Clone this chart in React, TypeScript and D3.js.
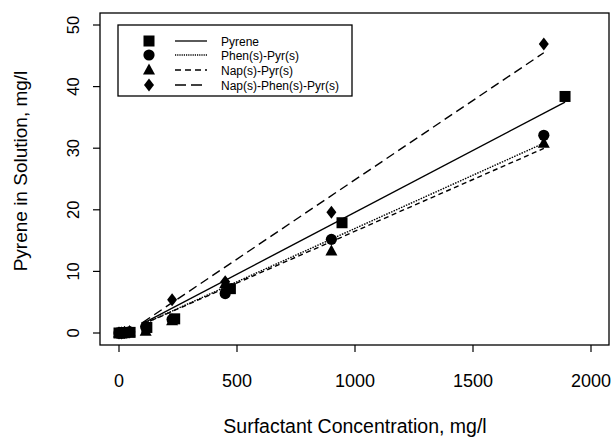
import React from "react";
import * as d3 from "d3";

const seriesNames = ["Pyrene", "Phen(s)-Pyr(s)", "Nap(s)-Pyr(s)", "Nap(s)-Phen(s)-Pyr(s)"];
const symbols = ["square", "circle", "triangle", "diamond"];
const dashes = ["none", "1.5,1.2", "5,3.5", "9,5"];
const legendDashes = ["none", "1.2,1", "6,4", "11,5"];

const pyreneX = [0, 12, 24, 47, 118, 236, 472, 945, 1890];
const pyreneY = [0, 0, 0.05, 0.1, 0.9, 2.3, 7.2, 17.9, 38.4];
const phenPyrX = [0, 11, 23, 45, 113, 225, 450, 900, 1800];
const phenPyrY = [0, 0, 0.1, 0.2, 1.0, 2.2, 6.4, 15.2, 32.1];
const napPyrX = [0, 11, 23, 45, 113, 225, 450, 900, 1800];
const napPyrY = [0, 0, 0.1, 0.2, 0.3, 2.0, 8.0, 13.3, 30.8];
const napPhenPyrX = [0, 11, 23, 45, 113, 225, 450, 900, 1800];
const napPhenPyrY = [0, 0, 0.1, 0.2, 1.0, 5.4, 8.3, 19.6, 46.9];

const fitSlope = [0.0201, 0.0173, 0.0168, 0.02576];
const fitIntercept = [-0.5, -0.33, -0.28, -0.88];
const fitStart = [100, 100, 100, 100];

const xTicks = [0, 500, 1000, 1500, 2000];
const yTicks = [0, 10, 20, 30, 40, 50];

const W = 614, H = 439;
const box = { left: 100, right: 609, top: 13, bottom: 345 };
const font = "'Liberation Sans', Arial, Helvetica, sans-serif";

function Marker({ type, x, y }: { type: string; x: number; y: number }) {
  if (type === "square") return <rect x={x - 5.5} y={y - 5.5} width={11} height={11} fill="#000" />;
  if (type === "circle") return <circle cx={x} cy={y} r={5.6} fill="#000" />;
  if (type === "triangle")
    return <path d={`M${x},${y - 6.5}L${x + 6},${y + 4.5}L${x - 6},${y + 4.5}Z`} fill="#000" />;
  return <path d={`M${x},${y - 6.5}L${x + 5},${y}L${x},${y + 6.5}L${x - 5},${y}Z`} fill="#000" />;
}

export default function App() {
  const x = d3.scaleLinear().domain([0, 2000]).range([119, 591]);
  const y = d3.scaleLinear().domain([0, 50]).range([333, 25]);
  const xs = [pyreneX, phenPyrX, napPyrX, napPhenPyrX];
  const ys = [pyreneY, phenPyrY, napPyrY, napPhenPyrY];
  const line = d3.line<[number, number]>().x((d) => x(d[0])).y((d) => y(d[1]));

  const legendRowY = [41, 55, 70, 85];

  return (
    <svg width={W} height={H} style={{ position: "absolute", left: 0, top: 0, background: "#fff" }}>
      <rect x={0} y={0} width={W} height={H} fill="#fff" />
      {seriesNames.map((n, i) => {
        const x1 = fitStart[i];
        const x2 = d3.max(xs[i]) as number;
        const pts: [number, number][] = [
          [x1, fitSlope[i] * x1 + fitIntercept[i]],
          [x2, fitSlope[i] * x2 + fitIntercept[i]],
        ];
        return (
          <path key={n} d={line(pts) || ""} fill="none" stroke="#000" strokeWidth={1.4}
            strokeDasharray={dashes[i]} />
        );
      })}
      {seriesNames.map((n, i) =>
        xs[i].map((xv, j) => <Marker key={n + j} type={symbols[i]} x={x(xv)} y={y(ys[i][j])} />)
      )}
      <rect x={box.left} y={box.top} width={box.right - box.left} height={box.bottom - box.top}
        fill="none" stroke="#000" strokeWidth={1.3} />
      {xTicks.map((t) => (
        <g key={t}>
          <line x1={x(t)} x2={x(t)} y1={box.bottom} y2={box.bottom + 7} stroke="#000" strokeWidth={1.2} />
          <text x={x(t)} y={387} textAnchor="middle" fontFamily={font} fontSize={18}>{t}</text>
        </g>
      ))}
      {yTicks.map((t) => (
        <g key={t}>
          <line x1={box.left - 7} x2={box.left} y1={y(t)} y2={y(t)} stroke="#000" strokeWidth={1.2} />
          <text transform={`translate(79,${y(t)}) rotate(-90)`} textAnchor="middle" fontFamily={font}
            fontSize={16.5}>{t}</text>
        </g>
      ))}
      <text x={355} y={433} textAnchor="middle" fontFamily={font} fontSize={19.5}>
        Surfactant Concentration, mg/l
      </text>
      <text transform={`translate(27,171) rotate(-90)`} textAnchor="middle" fontFamily={font} fontSize={19}>
        Pyrene in Solution, mg/l
      </text>
      <rect x={118} y={25} width={234} height={71} fill="#fff" stroke="#000" strokeWidth={1.3} />
      {seriesNames.map((n, i) => (
        <g key={n}>
          <Marker type={symbols[i]} x={149} y={legendRowY[i]} />
          <line x1={175} x2={207} y1={legendRowY[i]} y2={legendRowY[i]} stroke="#000" strokeWidth={1.3}
            strokeDasharray={legendDashes[i]} />
          <text x={221} y={legendRowY[i] + 4.5} fontFamily={font} fontSize={12}>{n}</text>
        </g>
      ))}
    </svg>
  );
}
